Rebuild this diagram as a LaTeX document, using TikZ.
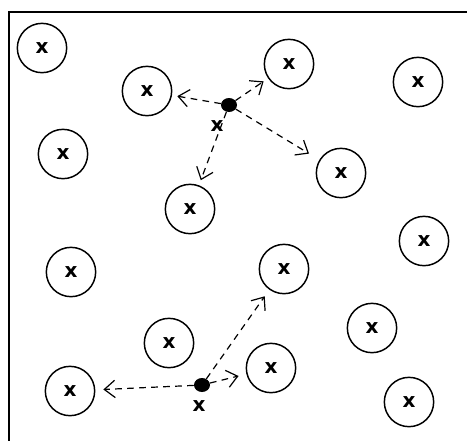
\documentclass[tikz,border=0pt]{standalone}
\usepackage{fontspec}
\newfontfamily\markfont{DejaVu Sans}
\usetikzlibrary{positioning, calc, arrows.meta, shapes.geometric}

\tikzset{
  site/.style={circle, draw, line width=1.1pt, minimum size=37pt, inner sep=0pt,
    font=\markfont\bfseries\fontsize{15}{15}\selectfont},
  probe/.style={ellipse, fill, minimum width=12pt, minimum height=10.5pt, inner sep=0pt},
  cross/.style={inner sep=0pt, font=\markfont\bfseries\fontsize{15}{15}\selectfont},
  hop/.style={line width=0.9pt, dash pattern=on 5pt off 4pt,
    -{Straight Barb[length=8pt, width=13pt, line width=0.9pt]}}
}

\begin{document}
\begin{tikzpicture}[x=0.75pt, y=-0.75pt]
    \useasboundingbox (0,0) rectangle (467,440);
    \clip (0,0) rectangle (467,440);
    % frame, cut at the right and bottom
    \draw[line width=1.5pt] (9,11.5) rectangle (480,455);

    % sites
    \node[site] (c1) at (42,48) {x};
    \node[site] (c2) at (147,91) {x};
    \node[site] (c3) at (289,64) {x};
    \node[site] (c4) at (418,82) {x};
    \node[site] (c5) at (63,154) {x};
    \node[site] (c6) at (341,173) {x};
    \node[site] (c7) at (190,209) {x};
    \node[site] (c8) at (424,241) {x};
    \node[site] (c9) at (71,272) {x};
    \node[site] (c10) at (284,269) {x};
    \node[site] (c11) at (169,343) {x};
    \node[site] (c12) at (372,328) {x};
    \node[site] (c13) at (271,368) {x};
    \node[site] (c14) at (70,391) {x};
    \node[site] (c15) at (409,402) {x};

    % the two probes with their own mark below
    \node[probe] (p1) at (229,105) {};
    \node[cross] (q1) at (217,126) {x};
    \node[probe] (p2) at (202,385) {};
    \node[cross] (q2) at (199,406) {x};

    % hops
    \draw[hop, shorten >=4pt] (p1) -- (c2);
    \draw[hop, shorten >=4pt] (p1) -- (c3);
    \draw[hop, shorten >=9pt] (p1) -- (c6);
    \draw[hop, shorten >=4pt] (p1) -- (c7);
    \draw[hop, shorten >=6pt] (p2) -- (c14);
    \draw[hop, shorten >=6pt] (p2) -- (c13);
    \draw[hop, shorten >=6pt] (p2) -- (c10);
\end{tikzpicture}
\end{document}
